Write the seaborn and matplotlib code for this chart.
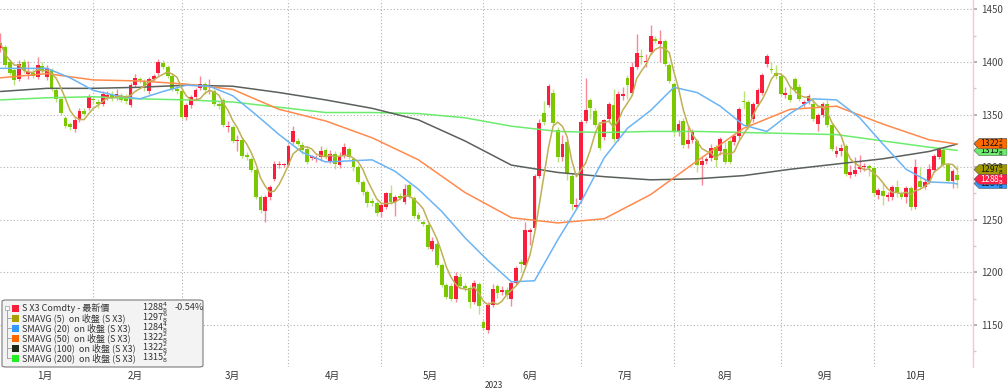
import numpy as np
import pandas as pd
import matplotlib
matplotlib.use("Agg")
import matplotlib.pyplot as plt
import matplotlib.transforms as mtransforms
from matplotlib.patches import FancyBboxPatch, Rectangle, Polygon
from matplotlib.lines import Line2D
import seaborn as sns

# trading days, S X3 (Nov 2023 soybeans)
holidays = ["2023-01-16", "2023-02-20", "2023-05-29", "2023-06-19", "2023-07-04", "2023-09-04"]
dates = pd.bdate_range("2023-01-03", "2023-10-26", freq="C", holidays=holidays)

opens = [
    1413, 1414, 1400, 1392, 1384, 1400, 1389, 1390, 1386, 1396,
    1386, 1392, 1373, 1365, 1347, 1341, 1336, 1345, 1353, 1356,
    1365, 1362, 1360, 1367, 1369, 1367, 1368, 1368, 1359, 1378,
    1384, 1382, 1372, 1384, 1390, 1399, 1395, 1387, 1374, 1372,
    1348, 1359, 1367, 1375, 1379, 1372, 1372, 1360, 1364, 1338,
    1338, 1325, 1326, 1311, 1308, 1297, 1272, 1258, 1272, 1289,
    1302, 1302, 1302, 1324, 1325, 1321, 1317, 1309, 1308, 1310,
    1316, 1306, 1313, 1302, 1311, 1317, 1308, 1300, 1286, 1276,
    1268, 1266, 1257, 1262, 1275, 1267, 1272, 1267, 1283, 1271,
    1255, 1248, 1245, 1222, 1227, 1207, 1188, 1187, 1175, 1196,
    1187, 1185, 1172, 1189, 1153, 1145, 1169, 1187, 1181, 1183,
    1175, 1190, 1210, 1207, 1238, 1242, 1292, 1352, 1359, 1371,
    1335, 1310, 1324, 1292, 1262, 1269, 1344, 1364, 1353, 1340,
    1329, 1346, 1359, 1327, 1368, 1385, 1371, 1395, 1406, 1400,
    1410, 1422, 1417, 1420, 1397, 1379, 1334, 1344, 1322, 1326,
    1325, 1302, 1306, 1309, 1319, 1315, 1317, 1325, 1324, 1330,
    1363, 1362, 1346, 1360, 1371, 1398, 1393, 1390, 1387, 1369,
    1369, 1384, 1376, 1360, 1363, 1360, 1341, 1350, 1360, 1340,
    1313, 1315, 1320, 1293, 1294, 1298, 1300, 1301, 1299, 1274,
    1277, 1272, 1272, 1281, 1275, 1272, 1280, 1262, 1287, 1281,
    1286, 1297, 1310, 1316, 1302, 1287, 1293]
highs = [
    1428, 1416, 1403, 1394, 1402, 1403, 1401, 1393, 1405, 1400,
    1397, 1394, 1375, 1367, 1349, 1343, 1347, 1356, 1356, 1370,
    1368, 1365, 1372, 1372, 1372, 1374, 1371, 1370, 1380, 1389,
    1386, 1384, 1386, 1389, 1403, 1402, 1397, 1389, 1377, 1374,
    1361, 1369, 1375, 1387, 1381, 1384, 1374, 1362, 1366, 1344,
    1340, 1331, 1328, 1314, 1310, 1299, 1274, 1274, 1283, 1306,
    1306, 1304, 1322, 1339, 1328, 1324, 1319, 1312, 1312, 1320,
    1318, 1316, 1315, 1314, 1323, 1319, 1310, 1302, 1288, 1278,
    1271, 1268, 1266, 1276, 1283, 1274, 1275, 1284, 1285, 1273,
    1257, 1250, 1247, 1234, 1229, 1209, 1190, 1190, 1200, 1199,
    1190, 1188, 1193, 1191, 1156, 1172, 1189, 1189, 1187, 1186,
    1192, 1206, 1213, 1248, 1242, 1294, 1346, 1363, 1379, 1374,
    1338, 1331, 1327, 1294, 1271, 1345, 1385, 1366, 1356, 1343,
    1346, 1362, 1374, 1372, 1376, 1388, 1400, 1427, 1412, 1408,
    1435, 1425, 1430, 1422, 1399, 1381, 1345, 1347, 1340, 1336,
    1327, 1310, 1310, 1322, 1321, 1329, 1324, 1327, 1332, 1357,
    1372, 1364, 1362, 1375, 1390, 1408, 1400, 1397, 1389, 1376,
    1377, 1386, 1379, 1364, 1370, 1366, 1352, 1362, 1364, 1342,
    1320, 1322, 1322, 1302, 1310, 1312, 1304, 1303, 1301, 1280,
    1285, 1276, 1283, 1288, 1277, 1282, 1282, 1308, 1300, 1289,
    1303, 1313, 1319, 1318, 1304, 1298, 1302]
lows = [
    1410, 1395, 1388, 1378, 1382, 1390, 1384, 1385, 1384, 1390,
    1383, 1372, 1362, 1350, 1337, 1335, 1333, 1343, 1349, 1354,
    1360, 1356, 1358, 1364, 1363, 1364, 1362, 1360, 1357, 1376,
    1380, 1372, 1370, 1382, 1388, 1393, 1385, 1372, 1370, 1346,
    1345, 1356, 1365, 1373, 1370, 1370, 1358, 1355, 1338, 1333,
    1323, 1315, 1309, 1307, 1295, 1270, 1256, 1248, 1269, 1287,
    1299, 1300, 1300, 1322, 1320, 1313, 1303, 1307, 1305, 1306,
    1308, 1304, 1298, 1299, 1309, 1308, 1296, 1284, 1274, 1262,
    1263, 1254, 1253, 1260, 1265, 1254, 1269, 1265, 1271, 1252,
    1249, 1244, 1222, 1220, 1205, 1186, 1175, 1173, 1172, 1185,
    1182, 1166, 1170, 1160, 1145, 1142, 1167, 1176, 1178, 1175,
    1168, 1188, 1200, 1205, 1226, 1240, 1290, 1340, 1357, 1340,
    1305, 1306, 1288, 1259, 1260, 1266, 1342, 1346, 1338, 1316,
    1326, 1343, 1324, 1325, 1364, 1365, 1369, 1393, 1398, 1395,
    1408, 1418, 1400, 1396, 1380, 1330, 1330, 1318, 1318, 1323,
    1295, 1283, 1303, 1306, 1300, 1312, 1303, 1303, 1321, 1327,
    1355, 1336, 1343, 1358, 1369, 1395, 1390, 1384, 1368, 1366,
    1362, 1371, 1363, 1357, 1360, 1344, 1334, 1348, 1338, 1315,
    1310, 1311, 1292, 1290, 1292, 1295, 1296, 1292, 1273, 1270,
    1264, 1268, 1269, 1272, 1270, 1266, 1259, 1260, 1279, 1279,
    1284, 1295, 1308, 1300, 1285, 1280, 1280]
closes = [
    1418, 1397, 1390, 1383, 1398, 1392, 1390, 1387, 1397, 1392,
    1394, 1375, 1365, 1352, 1339, 1338, 1345, 1353, 1351, 1367,
    1364, 1360, 1370, 1369, 1366, 1370, 1364, 1363, 1378, 1385,
    1383, 1376, 1384, 1387, 1400, 1395, 1387, 1374, 1372, 1348,
    1359, 1367, 1373, 1379, 1373, 1373, 1360, 1358, 1340, 1339,
    1325, 1326, 1311, 1310, 1297, 1272, 1259, 1272, 1281, 1303,
    1303, 1303, 1320, 1334, 1322, 1316, 1305, 1310, 1309, 1315,
    1310, 1313, 1303, 1311, 1319, 1310, 1300, 1286, 1276, 1266,
    1266, 1256, 1264, 1275, 1267, 1272, 1271, 1279, 1273, 1254,
    1251, 1246, 1224, 1230, 1207, 1188, 1177, 1175, 1197, 1187,
    1185, 1172, 1190, 1168, 1147, 1169, 1184, 1180, 1183, 1178,
    1190, 1204, 1208, 1240, 1240, 1292, 1342, 1343, 1377, 1342,
    1310, 1322, 1294, 1265, 1264, 1343, 1354, 1356, 1340, 1318,
    1345, 1360, 1327, 1370, 1370, 1378, 1395, 1409, 1405, 1401,
    1425, 1420, 1420, 1398, 1382, 1333, 1341, 1321, 1326, 1334,
    1302, 1306, 1308, 1318, 1307, 1327, 1305, 1305, 1330, 1355,
    1362, 1338, 1360, 1373, 1388, 1406, 1392, 1387, 1370, 1370,
    1364, 1373, 1365, 1362, 1368, 1346, 1350, 1360, 1340, 1317,
    1315, 1318, 1294, 1295, 1297, 1300, 1301, 1299, 1275, 1278,
    1273, 1273, 1281, 1275, 1272, 1280, 1262, 1300, 1281, 1286,
    1298, 1311, 1317, 1302, 1287, 1296, 1288]

# moving averages: sma20 every 5th day, the others every 10th day (+ last day)
sma20 = [1394, 1394, 1394, 1385, 1373, 1368, 1365, 1372, 1378, 1377,
         1368, 1350, 1331, 1314, 1305, 1306, 1307, 1296, 1279, 1258,
         1233, 1211, 1191, 1192, 1231, 1267, 1309, 1337, 1354, 1376,
         1371, 1358, 1340, 1334, 1351, 1365, 1364, 1347, 1322, 1298,
         1286, 1285, 1284]
sma50 = [1385, 1389, 1383, 1382, 1379, 1374, 1355, 1344, 1328, 1307, 1276,
         1252, 1247, 1251, 1274, 1306, 1337, 1355, 1358, 1341, 1326, 1322]
sma100 = [1372, 1375, 1375, 1376, 1378, 1377, 1371, 1364, 1356, 1345, 1325,
          1302, 1295, 1291, 1288, 1289, 1292, 1298, 1303, 1308, 1315, 1322]
sma200 = [1364, 1366, 1367, 1365, 1364, 1362, 1357, 1352, 1352, 1351, 1347,
          1339, 1334, 1333, 1334, 1334, 1333, 1332, 1331, 1325, 1319, 1316]

month_labels = ["1月", "2月", "3月", "4月", "5月", "6月", "7月", "8月", "9月", "10月"]

legend_names = ["S X3 Comdty - 最新價", "SMAVG (5)  on 收盤 (S X3)", "SMAVG (20)  on 收盤 (S X3)",
                "SMAVG (50)  on 收盤 (S X3)", "SMAVG (100)  on 收盤 (S X3)", "SMAVG (200)  on 收盤 (S X3)"]
legend_values = ["1288$^{4}_{8}$", "1297$^{6}_{8}$", "1284$^{4}_{8}$",
                 "1322$^{2}_{8}$", "1322$^{2}_{8}$", "1315$^{7}_{8}$"]
last_change = "-0.54%"
# right-edge tags, drawn bottom layer first
tag_values = [1322.25, 1315.875, 1322.25, 1284.5, 1297.75, 1288.5]
tag_texts = ["1322$^{2}_{8}$", "1315$^{7}_{8}$", "1322$^{2}_{8}$",
             "1284$^{4}_{8}$", "1297$^{6}_{8}$", "1288$^{4}_{8}$"]

RED, RED_W = "#fa1e3c", "#f7899b"
GREEN, GREEN_W = "#7cc800", "#b8e27a"
c5, c20, c50, c100, c200 = "#bfb055", "#6ab4f5", "#ff8a4c", "#5a605a", "#6cec6c"

sns.set_theme(style="white")
plt.rcParams["font.family"] = ["Noto Sans CJK TC", "DejaVu Sans"]
plt.rcParams["axes.unicode_minus"] = False

W, H = 1007, 390
fig = plt.figure(figsize=(W / 100, H / 100), dpi=100)
ax = fig.add_axes([0, 23 / H, 973 / W, 367 / H])

df = pd.DataFrame({"open": opens, "high": highs, "low": lows, "close": closes}, index=dates)
n = len(df)
x = np.arange(n)
up = df["close"].values >= df["open"].values

# candles
ax.vlines(x, df["low"], df["high"], colors=np.where(up, RED_W, GREEN_W), lw=1, zorder=3)
body = np.maximum(np.abs(df["close"] - df["open"]).values, 1.2)
ax.bar(x, body, bottom=np.minimum(df["open"], df["close"]).values, width=0.82,
       color=np.where(up, RED, GREEN), lw=0, zorder=4)

# moving averages
sma5 = df["close"].rolling(5, min_periods=1).mean()
pos5 = np.r_[np.arange(0, n, 5), n - 1]
pos10 = np.r_[np.arange(0, n, 10), n - 1]
sns.lineplot(x=pos10, y=sma200, ax=ax, color=c200, lw=1.1, zorder=5)
sns.lineplot(x=pos10, y=sma100, ax=ax, color=c100, lw=1.1, zorder=5)
sns.lineplot(x=pos10, y=sma50, ax=ax, color=c50, lw=1.1, zorder=5)
sns.lineplot(x=pos5, y=sma20, ax=ax, color=c20, lw=1.1, zorder=5)
sns.lineplot(x=x, y=sma5.values, ax=ax, color=c5, lw=1.1, zorder=6)

ax.set_xlim(-0.1, 209.4)
ax.set_ylim(1110, 1459)

# month grid / labels
months = df.index.month
starts = [np.where(months == m)[0][0] for m in range(2, 11)]
centers = [np.where(months == m)[0].mean() for m in range(1, 11)]
ax.set_xticks(starts)
ax.set_xticklabels([])
ax.set_xticks(centers, minor=True)
ax.set_xticklabels(month_labels, minor=True)
ax.tick_params(axis="x", which="both", length=0, labelsize=7, colors="#333333", pad=3)
ax.grid(axis="x", which="major", color="#b0b0b0", ls=(0, (1, 2)), lw=0.8)
ax.text(0.508, -0.05, "2023", transform=ax.transAxes, fontsize=6, color="#333333",
        ha="center", va="center")

# right price axis
ax.yaxis.tick_right()
ax.set_yticks(np.arange(1150, 1451, 50))
ax.set_yticks(np.arange(1125, 1451, 25), minor=True)
ax.tick_params(axis="y", which="major", length=3, color="#aaaaaa", labelsize=7,
               labelcolor="#444444", pad=3, right=True, left=False)
ax.tick_params(axis="y", which="minor", length=2, color="#cccccc", right=True, left=False)
ax.grid(axis="y", which="major", color="#b0b0b0", ls=(0, (1, 2)), lw=0.8)
for s in ["top", "left", "bottom"]:
    ax.spines[s].set_visible(False)
ax.spines["right"].set_color("#f9c6cf")
ax.spines["right"].set_linewidth(1)

# last-value tags (pentagon labels at the price axis), each tag above the previous one
tag_style = [(c100, "white"), (c200, "#111111"), ("#ff6a00", "#111111"),
             ("#3399ff", "#111111"), ("#a09a00", "#111111"), ("#ff2045", "white")]
ident = mtransforms.IdentityTransform()
for i, (v, t, (fc, tc)) in enumerate(zip(tag_values, tag_texts, tag_style)):
    yc = ax.transData.transform((0, v))[1]
    fig.add_artist(Polygon([(974, yc), (979, yc + 5), (1007, yc + 5), (1007, yc - 5), (979, yc - 5)],
                           closed=True, transform=ident, fc=fc, ec="#555555", lw=0.4,
                           zorder=30 + 2 * i))
    fig.text(980 / W, yc / H, t, fontsize=6, color=tc, ha="left", va="center", zorder=31 + 2 * i)

# legend box (drawn in figure pixels)
fx = lambda px: px / W
fy = lambda py: (H - py) / H
fig.add_artist(FancyBboxPatch((fx(2), fy(367)), fx(201), fy(300) - fy(367),
                              boxstyle="round,pad=0,rounding_size=0.004",
                              transform=fig.transFigure, fc="#f3f3f3", ec="#7a7a7a", lw=0.8,
                              zorder=20))
swatch = [RED, "#a8a000", "#3399ff", "#ff6600", "#1e2a14", "#22ee22"]
rows = [308, 318, 328, 338, 348, 358]
fig.add_artist(Line2D([fx(7), fx(7)], [fy(310), fy(358)], transform=fig.transFigure,
                      color="#999999", lw=0.6, zorder=21))
fig.add_artist(Rectangle((fx(5), fy(310)), fx(4), fy(306) - fy(310), transform=fig.transFigure,
                         fc="white", ec="#999999", lw=0.5, zorder=22))
for py, col, name, val in zip(rows, swatch, legend_names, legend_values):
    if py > rows[0]:
        fig.add_artist(Line2D([fx(7), fx(11)], [fy(py), fy(py)], transform=fig.transFigure,
                              color="#999999", lw=0.6, zorder=21))
    fig.add_artist(Rectangle((fx(12), fy(py + 3.5)), fx(7), fy(py - 3.5) - fy(py + 3.5),
                             transform=fig.transFigure, fc=col, ec="none", zorder=22))
    fig.text(fx(22), fy(py), name, fontsize=6.5, color="#333333", va="center", ha="left", zorder=22)
    fig.text(fx(142), fy(py), val, fontsize=6.5, color="#333333", va="center", ha="left", zorder=22)
fig.text(fx(175), fy(rows[0]), last_change, fontsize=6.5, color="#333333", va="center", ha="left",
         zorder=22)

fig.savefig("out.png", dpi=100)
